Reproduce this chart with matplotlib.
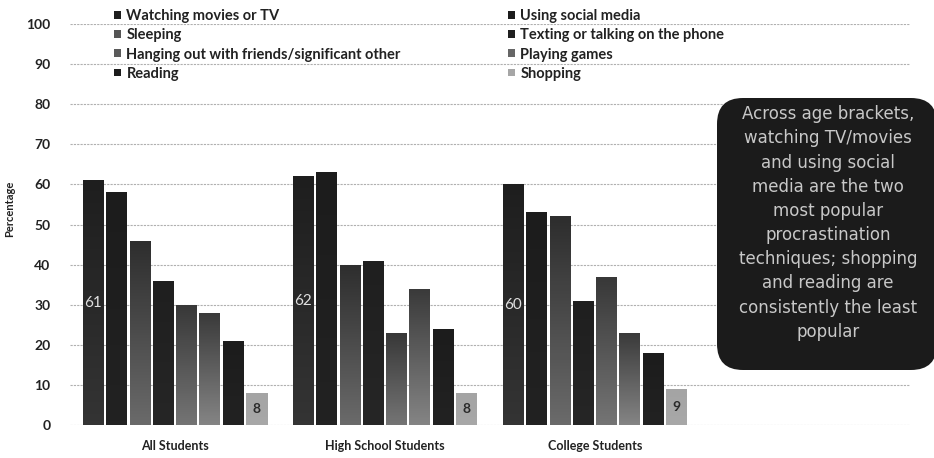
import numpy as np
import matplotlib
matplotlib.use("Agg")
import matplotlib.pyplot as plt
from matplotlib.patches import FancyBboxPatch, Patch
from matplotlib.colors import LinearSegmentedColormap
import matplotlib.transforms as mtransforms

# ---------------- data ----------------
categories = ["All Students", "High School Students", "College Students", ""]
series = ["Watching movies or TV", "Using social media", "Sleeping",
          "Texting or talking on the phone",
          "Hanging out with friends/significant other", "Playing games",
          "Reading", "Shopping"]
watching = [61, 62, 60]
social = [58, 63, 53]
sleeping = [46, 40, 52]
texting = [36, 41, 31]
hanging = [30, 23, 37]
games = [28, 34, 23]
reading = [21, 24, 18]
shopping = [8, 8, 9]
values = [watching, social, sleeping, texting, hanging, games, reading, shopping]
yticks = [0, 10, 20, 30, 40, 50, 60, 70, 80, 90, 100]
note = ("Across age brackets,\nwatching TV/movies\nand using social\nmedia are the two\n"
        "most popular\nprocrastination\ntechniques; shopping\nand reading are\n"
        "consistently the least\npopular")

# ---------------- style ----------------
top_colors = ["#1e1e1e", "#1c1c1c", "#2e2e2e", "#1f1f1f", "#383838", "#3a3a3a", "#1c1c1c", "#a4a4a4"]
bot_colors = ["#343434", "#222222", "#6a6a6a", "#262626", "#747474", "#848484", "#222222", "#a8a8a8"]
legend_colors = ["#1e1e1e", "#1c1c1c", "#555555", "#1f1f1f", "#5a5a5a", "#666666", "#1c1c1c", "#a6a6a6"]

W, H = 934, 458
fig = plt.figure(figsize=(W / 100, H / 100), dpi=100)
ax = fig.add_axes([70 / W, 1 - 425 / H, 840 / W, 401 / H])

x = np.arange(3)
slot = 0.111
bw = 0.100
for i, (name, vals) in enumerate(zip(series, values)):
    pos = x + (i - 3.5) * slot
    bars = ax.bar(pos, vals, width=bw, color=legend_colors[i], label=name, zorder=2)
    cmap = LinearSegmentedColormap.from_list(f"g{i}", [bot_colors[i], top_colors[i]])
    grad = np.linspace(0, 1, 64).reshape(-1, 1)
    for b in bars:
        bx, by = b.get_x(), b.get_y()
        im = ax.imshow(grad, cmap=cmap, aspect="auto", origin="lower",
                       extent=[bx, bx + b.get_width(), by, by + b.get_height()],
                       zorder=2.5)
        im.set_clip_path(b)

# data labels on first and last series
for j in range(3):
    ax.text(x[j] + (0 - 3.5) * slot, watching[j] / 2, str(watching[j]),
            ha="center", va="center", color="#e0e0e0", fontsize=11,
            family="Lato", zorder=4)
    ax.text(x[j] + (7 - 3.5) * slot, shopping[j] / 2, str(shopping[j]),
            ha="center", va="center", color="#2a2a2a", fontsize=10,
            family="Lato", fontweight="bold", zorder=4)

ax.set_xlim(-0.5, 3.5)
ax.set_ylim(0, 100)
ax.set_yticks(yticks)
ax.set_yticklabels([str(t) for t in yticks], fontsize=10, family="Lato",
                   fontweight="bold", color="#222222")
ax.set_xticks(np.arange(4))
ax.set_xticklabels(categories, fontsize=9, family="Lato", fontweight="bold",
                   color="#222222")
ax.tick_params(axis="both", length=0)
ax.tick_params(axis="x", pad=11)
ax.tick_params(axis="y", pad=14)
for s in ax.spines.values():
    s.set_visible(False)
ax.grid(axis="y", color="#b0b0b0", linestyle=(0, (2, 1)), linewidth=0.8, zorder=0)
ax.set_axisbelow(True)
ax.set_ylabel("Percentage", fontsize=8, family="Lato", fontweight="bold", color="#222222")
ax.yaxis.set_label_coords(-0.065, 0.54)

# legend (Excel-style row-major: two columns)
handles = [Patch(facecolor=legend_colors[i], edgecolor="none") for i in range(8)]
col1 = [0, 2, 4, 6]
col2 = [1, 3, 5, 7]
legkw = dict(frameon=False, prop={"family": "Lato", "weight": "bold", "size": 10.5},
             handlelength=0.45, handleheight=0.45, handletextpad=0.4,
             labelspacing=0.36, borderpad=0, borderaxespad=0)
leg1 = fig.legend([handles[i] for i in col1], [series[i] for i in col1],
                  loc="upper left", bbox_to_anchor=(114 / W, 1 - 9 / H), **legkw)
leg2 = fig.legend([handles[i] for i in col2], [series[i] for i in col2],
                  loc="upper left", bbox_to_anchor=(508 / W, 1 - 9 / H), **legkw)
for leg in (leg1, leg2):
    for t in leg.get_texts():
        t.set_color("#222222")

# annotation box
box = FancyBboxPatch((717, H - 370), 220, 272,
                     boxstyle="round,pad=0,rounding_size=26",
                     transform=mtransforms.IdentityTransform(),
                     facecolor="#1b1b1b", edgecolor="none", zorder=5)
fig.patches.append(box)
fig.text(828 / W, 1 - 223 / H, note, ha="center", va="center", color="#c8c8c8",
         fontsize=12, family="DejaVu Sans", linespacing=1.44, zorder=6)

fig.savefig("out.png", dpi=100)
